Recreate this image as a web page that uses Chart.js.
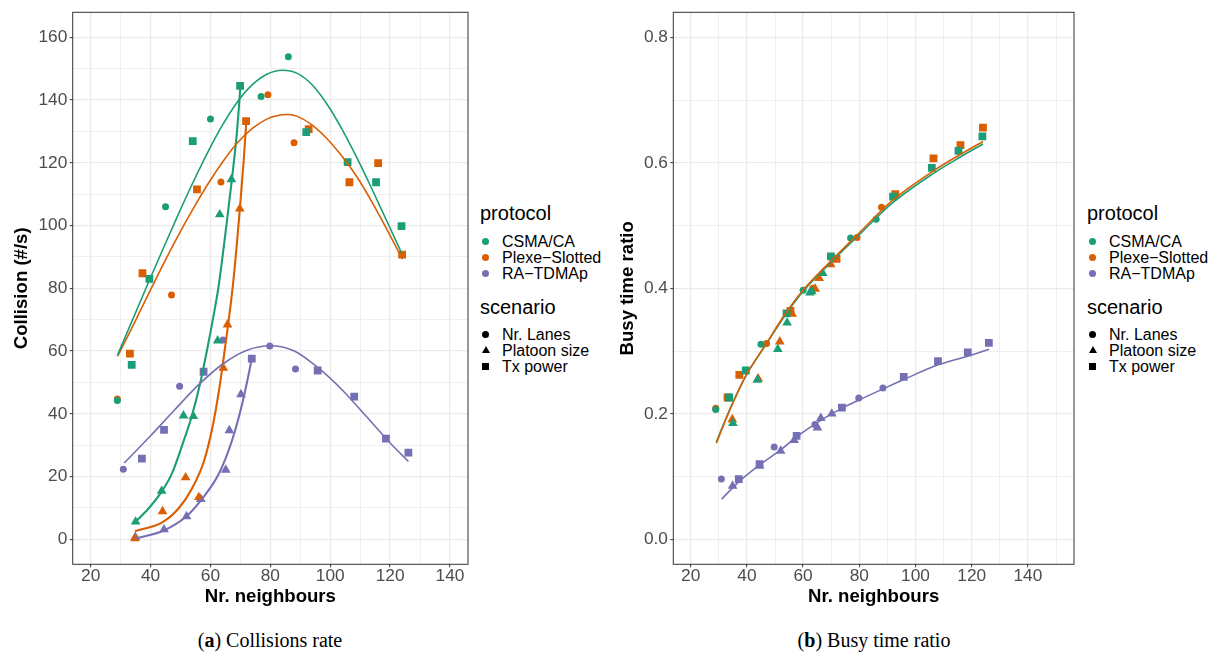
<!DOCTYPE html>
<html>
<head>
<meta charset="utf-8">
<script src="https://cdn.jsdelivr.net/npm/chart.js@4.4.0/dist/chart.umd.min.js"></script>
<style>
  body { margin: 0; background: #fff; width: 1212px; height: 657px; position: relative; overflow: hidden;
         font-family: "Liberation Sans", Arial, sans-serif; }
  canvas { position: absolute; top: 0; }
  .lt { position: absolute; font-size: 20px; line-height: 20px; color: #000; white-space: nowrap; }
  .li { position: absolute; font-size: 16px; line-height: 16px; color: #000; white-space: nowrap; }
  .mk { position: absolute; }
  .cap { position: absolute; font-family: "Liberation Serif", "Times New Roman", serif; font-size: 20px;
         line-height: 20px; color: #000; white-space: nowrap; transform: translateX(-50%); }
</style>
</head>
<body>
<canvas id="collChart" width="480" height="615" style="left:0"></canvas>
<canvas id="busyChart" width="480" height="615" style="left:606px"></canvas>
<div id="legends"></div>
<div class="cap" style="left:270px; top:630px">(<b>a</b>) Collisions rate</div>
<div class="cap" style="left:874px; top:630px">(<b>b</b>) Busy time ratio</div>

<script>
// protocols / scenarios
const protocols = ['CSMA/CA', 'Plexe\u2212Slotted', 'RA\u2212TDMAp'];
const scenarios = ['Nr. Lanes', 'Platoon size', 'Tx power'];
const colors = ['#1B9E77', '#D95F02', '#7570B3'];

// axis ticks
const xMajor = [20, 40, 60, 80, 100, 120, 140];
const xMinorColl = [30, 50, 70, 90, 110, 130];
const xMinorBusy = [30, 50, 70, 90, 110, 130, 150];
const collMajor = [0, 20, 40, 60, 80, 100, 120, 140, 160];
const collMinor = [10, 30, 50, 70, 90, 110, 130, 150];
const busyMajor = [0, 0.2, 0.4, 0.6, 0.8];
const busyLabels = ['0.0', '0.2', '0.4', '0.6', '0.8'];
const busyMinor = [0.1, 0.3, 0.5, 0.7];

// CSMA/CA measurements
const csmaLanesX = [28.9, 45.0, 60.0, 76.9, 86.0];
const csmaLanesColl = [44.2, 106.0, 134.0, 141.1, 153.8];
const csmaLanesBusy = [0.207, 0.311, 0.397, 0.480, 0.510];
const csmaPlatX = [35.0, 43.7, 51.0, 54.3, 62.4, 63.1, 67.0];
const csmaPlatColl = [5.6, 15.4, 39.4, 39.2, 63.3, 103.5, 114.7];
const csmaPlatBusy = [0.185, 0.254, 0.303, 0.345, 0.393, 0.395, 0.424];
const csmaTxX = [33.7, 39.6, 54.1, 69.9, 92.0, 105.8, 115.3, 123.8];
const csmaTxColl = [55.6, 83.0, 126.9, 144.5, 129.8, 120.2, 113.8, 99.8];
const csmaTxBusy = [0.226, 0.269, 0.360, 0.451, 0.546, 0.592, 0.619, 0.642];

// Plexe-Slotted measurements
const plexeLanesX = [28.9, 47.0, 63.5, 79.2, 87.9];
const plexeLanesColl = [44.7, 77.9, 113.9, 141.7, 126.4];
const plexeLanesBusy = [0.209, 0.312, 0.400, 0.481, 0.529];
const plexePlatX = [34.8, 44.0, 51.7, 56.1, 64.3, 65.7, 69.8];
const plexePlatColl = [0.3, 8.9, 19.7, 13.4, 54.6, 68.4, 105.4];
const plexePlatBusy = [0.191, 0.256, 0.315, 0.359, 0.399, 0.416, 0.438];
const plexeTxX = [33.1, 37.3, 55.5, 71.9, 92.8, 106.4, 116.0, 124.0];
const plexeTxColl = [59.2, 84.8, 111.5, 133.3, 130.7, 113.8, 119.9, 90.7];
const plexeTxBusy = [0.226, 0.262, 0.364, 0.447, 0.550, 0.607, 0.628, 0.656];

// RA-TDMAp measurements
const raLanesX = [30.9, 49.7, 64.2, 79.8, 88.4];
const raLanesColl = [22.3, 48.8, 63.5, 61.6, 54.3];
const raLanesBusy = [0.096, 0.147, 0.183, 0.225, 0.241];
const raPlatX = [34.9, 44.5, 52.0, 56.8, 65.1, 66.3, 70.2];
const raPlatColl = [0.7, 3.1, 7.3, 12.8, 22.1, 34.7, 46.2];
const raPlatBusy = [0.085, 0.117, 0.141, 0.158, 0.178, 0.193, 0.200];
const raTxX = [37.1, 44.5, 57.7, 73.8, 95.8, 108.0, 118.6, 126.1];
const raTxColl = [25.7, 34.9, 53.4, 57.6, 53.8, 45.5, 32.1, 27.6];
const raTxBusy = [0.096, 0.120, 0.165, 0.210, 0.259, 0.284, 0.298, 0.313];

// smoothed fits (collisions)
const csmaFitX = [29, 34, 39, 44, 49, 54, 59, 64, 69, 74, 79, 84, 89, 94, 99, 104, 109, 114, 119, 123.9];
const csmaFitY = [58.8, 70.0, 81.2, 92.2, 103.0, 113.4, 123.2, 132.0, 139.4, 144.9, 148.3, 149.5, 148.5, 144.8, 138.6, 130.6, 121.4, 111.5, 101.2, 91.1];
const plexeFitX = [29, 34, 39, 44, 49, 54, 59, 64, 69, 74, 79, 84, 86, 89, 94, 99, 104, 109, 114, 119, 124.1];
const plexeFitY = [58.3, 67.8, 77.6, 87.2, 96.4, 105.0, 113.0, 120.2, 126.4, 131.0, 134.0, 135.3, 135.4, 134.8, 132.0, 127.6, 122.0, 115.4, 107.4, 98.6, 89.3];
const raFitX = [31.2, 40, 48, 56, 64, 72, 80, 88, 96, 104, 112, 120, 126.1];
const raFitY = [24.3, 33.0, 41.2, 49.2, 55.8, 60.2, 61.7, 60.0, 54.6, 47.6, 39.2, 30.7, 24.8];
const csmaPlatFitX = [34.8, 39.4, 43.7, 47.2, 50.6, 53.9, 56.7, 59.4, 61.7, 62.7, 65.0, 67.2, 68.9, 70.0];
const csmaPlatFitY = [5.4, 9.9, 15.2, 21.1, 30.1, 39.7, 50.3, 63.0, 74.8, 80.5, 97.5, 115.0, 130.4, 144.3];
const plexePlatFitX = [34.8, 43.9, 49.4, 53.9, 57.8, 60.6, 62.8, 64.4, 65.9, 67.5, 68.9, 70.0, 71.1, 72.0];
const plexePlatFitY = [2.6, 5.4, 9.9, 16.3, 24.8, 35.4, 47.1, 57.7, 68.4, 81.0, 95.0, 107.5, 120.7, 133.6];
const raPlatFitX = [35.0, 44.4, 51.7, 57.2, 62.8, 67.2, 70.6, 72.8, 73.9];
const raPlatFitY = [0.2, 2.8, 7.1, 12.9, 20.9, 31.5, 43.2, 52.8, 58.1];

// smoothed fits (busy time)
const busyFitX = [29.1, 34.2, 39.8, 46.9, 53.0, 59.8, 69.8, 79.9, 91.8, 106.0, 115.5, 124.0];
const csmaBusyFitY = [0.155, 0.210, 0.262, 0.311, 0.353, 0.394, 0.441, 0.485, 0.536, 0.582, 0.608, 0.630];
const plexeBusyFitY = [0.153, 0.209, 0.262, 0.312, 0.355, 0.396, 0.443, 0.488, 0.540, 0.586, 0.612, 0.634];
const raBusyFitX = [31.0, 37.2, 44.3, 51.9, 57.6, 65.0, 73.9, 79.9, 88.6, 96.0, 108.1, 118.8, 126.2];
const raBusyFitY = [0.064, 0.092, 0.118, 0.142, 0.163, 0.186, 0.209, 0.222, 0.240, 0.255, 0.278, 0.292, 0.303];

const FONT = '"Liberation Sans", Arial, sans-serif';
const pts = (xs, ys) => xs.map((x, i) => ({ x: x, y: ys[i] }));
const styles = ['circle', 'triangle', 'rect'];
const radii = [3.5, 5.6, 5.5];

function scatter(xs, ys, p, s) {
  return {
    type: 'scatter', data: pts(xs, ys), showLine: false,
    pointStyle: styles[s], pointRadius: radii[s], pointHoverRadius: radii[s],
    backgroundColor: colors[p], borderColor: colors[p], pointBorderWidth: 0
  };
}
function fit(xs, ys, p, w) {
  return {
    type: 'line', data: pts(xs, ys), borderColor: colors[p], borderWidth: w,
    pointRadius: 0, fill: false, cubicInterpolationMode: 'monotone'
  };
}

const panelBorder = {
  id: 'panelBorder',
  afterDraw(chart) {
    const { ctx, chartArea: a } = chart;
    ctx.save();
    ctx.strokeStyle = '#333333';
    ctx.lineWidth = 1;
    ctx.strokeRect(a.left, a.top, a.right - a.left, a.bottom - a.top);
    ctx.restore();
  }
};

function makeScales(o) {
  const isMajorX = v => xMajor.includes(v);
  const isMajorY = v => o.yMajor.includes(v);
  return {
    x: {
      type: 'linear', min: o.xMin, max: o.xMax,
      afterBuildTicks: s => { s.ticks = xMajor.concat(o.xMinor).sort((a, b) => a - b).map(v => ({ value: v })); },
      afterFit: s => { s.height = 50.7; },
      ticks: { autoSkip: false, maxRotation: 0, padding: 0, color: '#4D4D4D',
               font: { family: FONT, size: 17.3, lineHeight: 1 },
               callback: v => isMajorX(v) ? String(v) : '' },
      grid: { color: '#EBEBEB', lineWidth: c => (c.tick && isMajorX(c.tick.value)) ? 1.3 : 0.8,
              tickLength: 3, tickWidth: 1,
              tickColor: c => (c.tick && isMajorX(c.tick.value)) ? '#333333' : 'rgba(0,0,0,0)' },
      border: { display: false },
      title: { display: true, text: 'Nr. neighbours', color: '#000',
               font: { family: FONT, size: 18.6, weight: 'bold', lineHeight: 1.2 },
               padding: { top: 0, bottom: 7.1 } }
    },
    y: {
      type: 'linear', min: o.yMin, max: o.yMax,
      afterBuildTicks: s => { s.ticks = o.yMajor.concat(o.yMinor).sort((a, b) => a - b).map(v => ({ value: v })); },
      afterFit: s => { s.width = o.yWidth; },
      ticks: { autoSkip: false, padding: 2.4, color: '#4D4D4D',
               font: { family: FONT, size: 17.3, lineHeight: 1 },
               callback: v => isMajorY(v) ? o.yLabels[o.yMajor.indexOf(v)] : '' },
      grid: { color: '#EBEBEB', lineWidth: c => (c.tick && isMajorY(c.tick.value)) ? 1.3 : 0.8,
              tickLength: 3, tickWidth: 1,
              tickColor: c => (c.tick && isMajorY(c.tick.value)) ? '#333333' : 'rgba(0,0,0,0)' },
      border: { display: false },
      title: { display: true, text: o.yTitle, color: '#000',
               font: { family: FONT, size: 18.6, weight: 'bold', lineHeight: 1.2 },
               padding: { top: 10.8, bottom: 0 } }
    }
  };
}

const baseOptions = {
  responsive: false, animation: false,
  layout: { padding: { top: 12.3, left: 0, right: 12, bottom: 0 } },
  plugins: { legend: { display: false }, tooltip: { enabled: false } }
};

// (a) Collisions rate
new Chart(document.getElementById('collChart'), {
  type: 'scatter',
  data: {
    datasets: [
      fit(csmaFitX, csmaFitY, 0, 1.6),
      fit(plexeFitX, plexeFitY, 1, 1.6),
      fit(raFitX, raFitY, 2, 1.6),
      fit(csmaPlatFitX, csmaPlatFitY, 0, 2.1),
      fit(plexePlatFitX, plexePlatFitY, 1, 2.1),
      fit(raPlatFitX, raPlatFitY, 2, 2.1),
      scatter(csmaLanesX, csmaLanesColl, 0, 0),
      scatter(csmaPlatX, csmaPlatColl, 0, 1),
      scatter(csmaTxX, csmaTxColl, 0, 2),
      scatter(plexeLanesX, plexeLanesColl, 1, 0),
      scatter(plexePlatX, plexePlatColl, 1, 1),
      scatter(plexeTxX, plexeTxColl, 1, 2),
      scatter(raLanesX, raLanesColl, 2, 0),
      scatter(raPlatX, raPlatColl, 2, 1),
      scatter(raTxX, raTxColl, 2, 2)
    ]
  },
  options: Object.assign({}, baseOptions, {
    scales: makeScales({ xMin: 14.0, xMax: 146.0, xMinor: xMinorColl, yMin: -7.97, yMax: 167.97,
                         yMajor: collMajor, yMinor: collMinor, yLabels: collMajor.map(String),
                         yWidth: 72.7, yTitle: 'Collision (#/s)' })
  }),
  plugins: [panelBorder]
});

// (b) Busy time ratio
new Chart(document.getElementById('busyChart'), {
  type: 'scatter',
  data: {
    datasets: [
      fit(busyFitX, plexeBusyFitY, 1, 1.6),
      fit(busyFitX, csmaBusyFitY, 0, 1.6),
      fit(raBusyFitX, raBusyFitY, 2, 1.6),
      scatter(csmaLanesX, csmaLanesBusy, 0, 0),
      scatter(csmaPlatX, csmaPlatBusy, 0, 1),
      scatter(csmaTxX, csmaTxBusy, 0, 2),
      scatter(plexeLanesX, plexeLanesBusy, 1, 0),
      scatter(plexePlatX, plexePlatBusy, 1, 1),
      scatter(plexeTxX, plexeTxBusy, 1, 2),
      scatter(raLanesX, raLanesBusy, 2, 0),
      scatter(raPlatX, raPlatBusy, 2, 1),
      scatter(raTxX, raTxBusy, 2, 2)
    ]
  },
  options: Object.assign({}, baseOptions, {
    scales: makeScales({ xMin: 13.8, xMax: 156.4, xMinor: xMinorBusy, yMin: -0.0398, yMax: 0.8398,
                         yMajor: busyMajor, yMinor: busyMinor, yLabels: busyLabels,
                         yWidth: 67.3, yTitle: 'Busy time ratio' })
  }),
  plugins: [panelBorder]
});

// ggplot-style legends
function marker(kind, color, cx, cy) {
  const d = document.createElement('div');
  d.className = 'mk';
  if (kind === 'triangle') {
    d.style.cssText = `left:${cx - 4}px;top:${cy - 4}px;width:0;height:0;border-left:4px solid transparent;` +
                      `border-right:4px solid transparent;border-bottom:7px solid ${color};`;
  } else {
    const r = kind === 'circle' ? '50%' : '0';
    d.style.cssText = `left:${cx - 3.5}px;top:${cy - 3.5}px;width:7px;height:7px;` +
                      `border-radius:${r};background:${color};`;
  }
  return d;
}
function addLegend(left) {
  const root = document.getElementById('legends');
  const add = (cls, txt, x, y) => {
    const d = document.createElement('div');
    d.className = cls; d.textContent = txt;
    d.style.left = x + 'px'; d.style.top = y + 'px';
    root.appendChild(d);
  };
  add('lt', 'protocol', left, 203);
  protocols.forEach((p, i) => {
    const base = 247.3 + i * 16;
    root.appendChild(marker('circle', colors[i], left + 5.5, base - 5.7));
    add('li', p, left + 22, base - 13.5);
  });
  add('lt', 'scenario', left, 297);
  scenarios.forEach((s, i) => {
    const base = 340 + i * 16;
    root.appendChild(marker(styles[i], '#000', left + 5.5, base - 5.7));
    add('li', s, left + 22, base - 13.5);
  });
}
addLegend(480);
addLegend(1087);
</script>
</body>
</html>
